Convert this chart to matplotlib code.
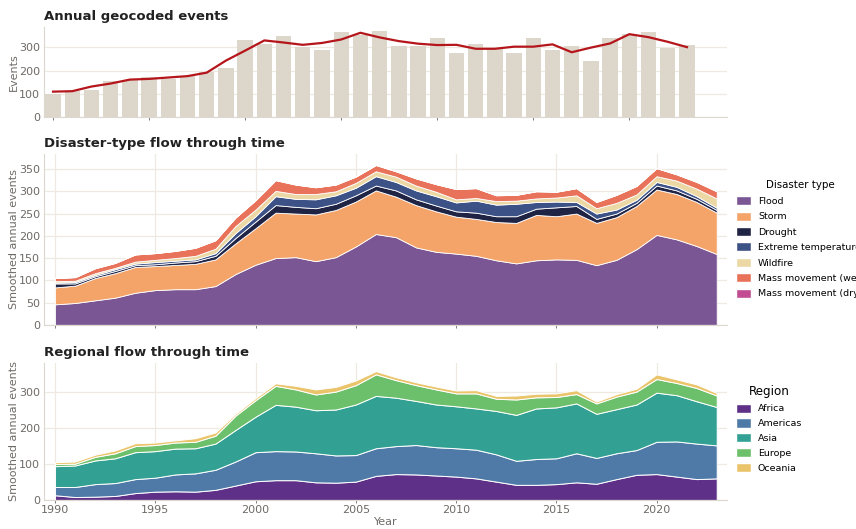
import matplotlib
matplotlib.use("Agg")
import matplotlib.pyplot as plt
import matplotlib.patches as mpatches
import numpy as np

years = np.arange(1990, 2024)

# annual geocoded events (bars) and smoothed line
events = [99, 110, 116, 156, 160, 171, 163, 176, 193, 211,
          331, 314, 349, 303, 287, 366, 352, 370, 307, 307,
          340, 277, 316, 293, 277, 341, 289, 306, 243, 341,
          359, 366, 296, 310]
events_smooth = [109, 111, 131, 144, 161, 164, 170, 176, 191, 243,
                 286, 330, 321, 311, 319, 334, 363, 343, 327, 316,
                 310, 311, 294, 294, 303, 303, 313, 279, 299, 317,
                 357, 344, 324, 301]

# disaster types (smoothed)
flood = [46, 49, 55, 61, 72, 78, 80, 80, 87, 114, 135, 150, 152, 143, 152, 176, 204,
         197, 174, 164, 160, 155, 145, 138, 145, 147, 146, 134, 146, 170, 202, 192, 177, 159]
storm = [38, 39, 50, 55, 58, 54, 54.5, 57, 60, 69, 82, 102, 98, 105, 106, 101, 98,
         91, 95, 91, 83, 83, 86, 91, 102, 97, 104, 95, 96, 97, 102, 102, 99, 93]
drought = [9, 5, 4, 5, 4, 4, 5.5, 6, 8, 12, 15, 17, 15, 14, 14, 14, 11,
           14, 13, 13, 12, 14, 13, 15, 14, 20, 17, 9, 8, 7, 9, 8, 7, 6]
ext_temp = [2, 3, 3, 4, 3.5, 5, 4, 4, 6, 11, 12, 20, 18, 20, 19, 17, 21,
            19, 20, 21, 20, 27, 26, 28, 15, 13, 9, 12, 9, 7, 8, 8, 6, 5]
wildfire = [3, 3, 4, 3, 4.5, 5, 6, 8, 10, 16, 15, 12, 11, 12, 9, 11, 11,
            12, 11, 10, 7, 6, 8, 7, 8, 9, 15, 12, 15, 12, 13, 14, 17, 21]
mass_wet = [7, 8, 11, 11, 16, 15, 16, 18, 19, 19, 21, 24, 21, 15, 15, 14, 14,
            12, 16, 17, 23, 22, 13, 13, 16, 13, 16, 14, 18, 19, 18, 14, 15, 16]
mass_dry = [0.3, 0.3, 0.3, 0.3, 0.3, 0.3, 0.3, 0.3, 0.3, 0.3, 0.4, 0.4, 0.4, 0.4, 0.4, 0.4, 0.4,
            0.4, 0.4, 0.4, 0.4, 0.4, 0.4, 0.4, 0.4, 0.4, 0.4, 0.4, 0.4, 0.4, 0.4, 0.4, 0.4, 0.4]
type_labels = ["Flood", "Storm", "Drought", "Extreme temperature", "Wildfire",
               "Mass movement (wet)", "Mass movement (dry)"]
type_colors = ["#7b5694", "#f4a469", "#1f2344", "#3c5286", "#ebd8a4", "#e8735a", "#c24d92"]

# regions (smoothed)
africa = [13, 8, 9, 11, 19, 23, 24, 23, 28, 40, 52, 55, 55, 49, 48, 51, 67,
          72, 71, 68, 65, 60, 51, 42, 42, 44, 49, 45, 58, 70, 72, 65, 58, 60]
americas = [23, 28, 35, 36, 39, 39, 47, 51, 56, 67, 81, 81, 80, 81, 76, 74, 77,
            78, 82, 79, 79, 80, 76, 67, 72, 72, 81, 72, 72, 69, 90, 98, 99, 92]
asia = [58, 60, 66, 69, 75, 74, 72, 70, 73, 88, 99, 129, 125, 120, 128, 141, 146,
        135, 123, 119, 117, 115, 121, 128, 141, 142, 139, 123, 123, 127, 137, 129, 118, 107]
europe = [6, 5, 10, 14, 17, 17, 17, 18, 22, 40, 46, 53, 48, 44, 50, 54, 60,
          49, 44, 42, 36, 42, 34, 43, 31, 29, 26, 29, 35, 36, 38, 34, 37, 32]
oceania = [5, 6, 6, 8, 8, 7, 6, 10, 9, 5, 6, 7, 10, 14, 13, 13, 9,
           8, 8, 8, 8, 9, 8, 11, 10, 10, 11, 5, 7, 8, 13, 10, 10, 7]
region_labels = ["Africa", "Americas", "Asia", "Europe", "Oceania"]
region_colors = ["#5f3087", "#4f7aa8", "#32a193", "#6cc06c", "#eac46a"]

grid_c = "#eeeae2"
spine_c = "#dcd7cf"
text_c = "#6e6a66"
title_c = "#222222"

fig = plt.figure(figsize=(8.56, 5.29), dpi=100)
L, R = 0.0514, 0.849
ax1 = fig.add_axes([L, 0.779, R - L, 0.949 - 0.779])
ax2 = fig.add_axes([L, 0.386, R - L, 0.709 - 0.386])
ax3 = fig.add_axes([L, 0.055, R - L, 0.314 - 0.055])


def style(ax, vgrid=True):
    for s in ["top", "right"]:
        ax.spines[s].set_visible(False)
    for s in ["left", "bottom"]:
        ax.spines[s].set_color(spine_c)
        ax.spines[s].set_linewidth(0.8)
    ax.grid(axis="y", color=grid_c, linewidth=0.9)
    if vgrid:
        ax.grid(axis="x", color=grid_c, linewidth=0.9)
    ax.set_axisbelow(True)
    ax.tick_params(colors=text_c, labelsize=8, length=2.5, width=0.6, pad=1.5)
    ax.tick_params(axis="y", length=0, pad=3)
    ax.set_xticks(np.arange(1990, 2021, 5))


# top panel
ax1.bar(years, events, width=0.8, color="#ddd6cb", zorder=2)
ax1.plot(years, events_smooth, color="#b5161b", linewidth=1.6, zorder=3)
style(ax1, vgrid=False)
ax1.set_xlim(1989.53, 2025.07)
ax1.set_ylim(0, 388)
ax1.set_yticks([0, 100, 200, 300])
ax1.set_xticklabels([])
ax1.set_ylabel("Events", color=text_c, fontsize=8, labelpad=0)
ax1.set_title("Annual geocoded events", loc="left", fontsize=9.5,
              fontweight="bold", color=title_c, pad=5)

# middle panel
ax2.stackplot(years, flood, storm, drought, ext_temp, wildfire, mass_wet, mass_dry,
              colors=type_colors, edgecolor="white", linewidth=0.6, zorder=2)
style(ax2)
ax2.set_xlim(1989.45, 2023.5)
ax2.set_ylim(0, 384)
ax2.set_yticks(np.arange(0, 351, 50))
ax2.set_xticklabels([])
ax2.set_ylabel("Smoothed annual events", color=text_c, fontsize=8, labelpad=0)
ax2.set_title("Disaster-type flow through time", loc="left", fontsize=9.5,
              fontweight="bold", color=title_c, pad=5)
h2 = [mpatches.Patch(facecolor=c, edgecolor="white", label=l)
      for c, l in zip(type_colors, type_labels)]
ax2.legend(handles=h2, title="Disaster type", loc="upper left",
           bbox_to_anchor=(1.0, 0.90), frameon=False, fontsize=6.8,
           title_fontsize=7.4, handlelength=1.55, handleheight=1.1,
           labelspacing=0.6, handletextpad=0.75, borderaxespad=0.6)

# bottom panel
ax3.stackplot(years, africa, americas, asia, europe, oceania,
              colors=region_colors, edgecolor="white", linewidth=0.7, zorder=2)
style(ax3)
ax3.set_xlim(1989.45, 2023.5)
ax3.set_ylim(0, 382)
ax3.set_yticks([0, 100, 200, 300])
ax3.set_ylabel("Smoothed annual events", color=text_c, fontsize=8, labelpad=0)
ax3.set_xlabel("Year", color=text_c, fontsize=8, labelpad=1)
ax3.set_title("Regional flow through time", loc="left", fontsize=9.5,
              fontweight="bold", color=title_c, pad=5)
h3 = [mpatches.Patch(facecolor=c, edgecolor="white", label=l)
      for c, l in zip(region_colors, region_labels)]
ax3.legend(handles=h3, title="Region", loc="upper left",
           bbox_to_anchor=(1.0, 0.905), frameon=False, fontsize=6.8,
           title_fontsize=8.6, handlelength=1.55, handleheight=1.1,
           labelspacing=0.55, handletextpad=0.75, borderaxespad=0.6)

fig.savefig("out.png", dpi=100)
